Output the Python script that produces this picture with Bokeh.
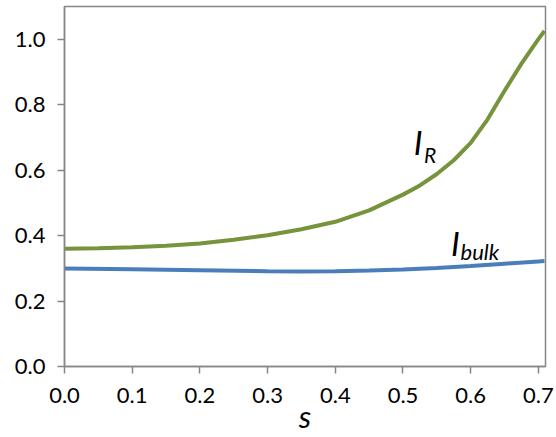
from bokeh.plotting import figure
from bokeh.models import Range1d, NumeralTickFormatter, Label, FixedTicker
from bokeh.embed import file_html
from bokeh.resources import INLINE

# data
s_R = [0.0, 0.05, 0.1, 0.15, 0.2, 0.25, 0.3, 0.35, 0.4, 0.45, 0.5, 0.525, 0.55, 0.575,
       0.6, 0.625, 0.65, 0.675, 0.7, 0.709]
I_R = [0.360, 0.361, 0.364, 0.369, 0.376, 0.387, 0.401, 0.419, 0.442, 0.477, 0.525, 0.553,
       0.588, 0.630, 0.683, 0.755, 0.842, 0.925, 1.0, 1.025]

s_bulk = [0.0, 0.1, 0.2, 0.3, 0.35, 0.4, 0.45, 0.5, 0.55, 0.6, 0.65, 0.7, 0.709]
I_bulk = [0.299, 0.297, 0.294, 0.291, 0.290, 0.291, 0.293, 0.296, 0.301, 0.307, 0.314, 0.321, 0.322]

x_ticks = [0.0, 0.1, 0.2, 0.3, 0.4, 0.5, 0.6, 0.7]
y_ticks = [0.0, 0.2, 0.4, 0.6, 0.8, 1.0]

FONT = "Lato"
GREEN = "#77933C"
BLUE = "#4A7EBB"
GREY = "#868686"

p = figure(width=556, height=437, output_backend="svg", toolbar_location=None,
           x_range=Range1d(0, 0.7105), y_range=Range1d(0, 1.0996),
           min_border_left=64, min_border_right=11, min_border_top=6, min_border_bottom=71)

p.line(s_R, I_R, line_color=GREEN, line_width=4)
p.line(s_bulk, I_bulk, line_color=BLUE, line_width=4)

p.xgrid.visible = False
p.ygrid.visible = False
p.outline_line_color = GREY
p.outline_line_width = 1.5
p.background_fill_color = "white"
p.border_fill_color = "white"

for ax, ticks in ((p.xaxis[0], x_ticks), (p.yaxis[0], y_ticks)):
    ax.ticker = FixedTicker(ticks=ticks)
    ax.formatter = NumeralTickFormatter(format="0.0")
    ax.axis_line_color = GREY
    ax.axis_line_width = 1.5
    ax.major_tick_line_color = GREY
    ax.major_tick_line_width = 1.5
    ax.major_tick_out = 7
    ax.major_tick_in = 0
    ax.minor_tick_line_color = None
    ax.major_label_text_font = FONT
    ax.major_label_text_font_size = "22px"
    ax.major_label_text_color = "black"

p.yaxis[0].major_label_standoff = 12
p.xaxis[0].major_label_standoff = 14

xa = p.xaxis[0]
xa.axis_label = "s"
xa.axis_label_text_font = FONT
xa.axis_label_text_font_style = "italic"
xa.axis_label_text_font_size = "31px"
xa.axis_label_text_color = "black"
xa.axis_label_standoff = -9

def add_label(x, y, text, size):
    p.add_layout(Label(x=x, y=y, text=text, text_font=FONT, text_font_style="italic",
                       text_font_size=size, text_color="black", text_baseline="alphabetic",
                       text_align="left"))

# curve labels (I with subscript)
add_label(0.516, 0.685, "I", "33px")
add_label(0.531, 0.647, "R", "21px")
add_label(0.571, 0.376, "I", "33px")
add_label(0.585, 0.352, "bulk", "22px")

open("out.html", "w").write(file_html(p, INLINE))
